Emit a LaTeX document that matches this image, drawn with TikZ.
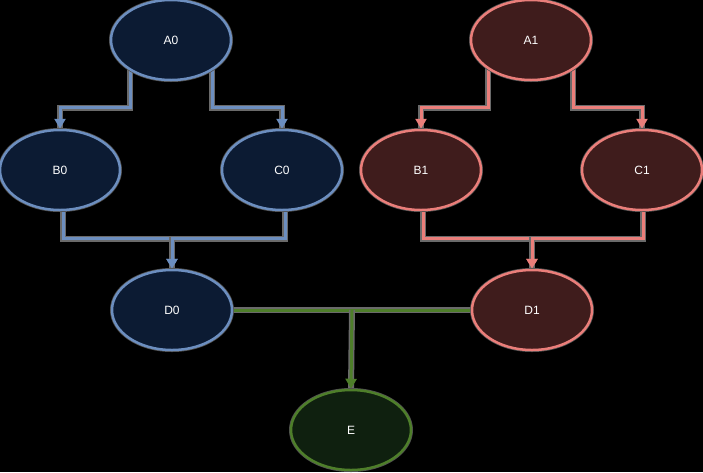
\documentclass[tikz,border=0pt]{standalone}
\usepackage{fontspec}
\setmainfont{Liberation Sans}
\usetikzlibrary{arrows.meta,calc,backgrounds,shapes.geometric}
\definecolor{bstroke}{HTML}{6C8EBF}
\definecolor{bfill}{HTML}{0C1B33}
\definecolor{rstroke}{HTML}{EA7E7A}
\definecolor{rfill}{HTML}{3F1C1C}
\definecolor{gstroke}{HTML}{4E7E2A}
\definecolor{gfill}{HTML}{0F200F}
\definecolor{halo}{HTML}{6A6A6A}
\tikzset{
  ell/.style={ellipse,minimum width=120pt,minimum height=80pt,inner sep=0pt,
    line width=2.5pt,text=white,font=\fontsize{12}{14}\selectfont,
    preaction={draw=halo!75!black,line width=4pt}},
  bnode/.style={ell,draw=bstroke,fill=bfill},
  rnode/.style={ell,draw=rstroke,fill=rfill},
  gnode/.style={ell,draw=gstroke,fill=gfill},
  conn/.style={line width=3pt,-{Triangle[width=11pt,length=10pt]},
    preaction={draw=halo,line width=6pt,-}},
  plain/.style={line width=3pt,preaction={draw=halo,line width=6pt}},
}
\begin{document}
\begin{tikzpicture}[x=1pt,y=-1pt]
\useasboundingbox (0,0) rectangle (703,472);
\node[bnode] (A0) at (171,40) {A0};
\node[bnode] (B0) at (60,170) {B0};
\node[bnode] (C0) at (282,170) {C0};
\node[bnode] (D0) at (172,310) {D0};
\node[rnode] (A1) at (531,40) {A1};
\node[rnode] (B1) at (421,170) {B1};
\node[rnode] (C1) at (642,170) {C1};
\node[rnode] (D1) at (532,310) {D1};
\node[gnode] (E) at (351,430) {E};
\begin{scope}[on background layer]
\fill[black] (0,0) rectangle (703,472);
\draw[conn,bstroke] ([xshift=-41pt]A0.center) |- ($(A0.center)!0.52!(B0.center)$) -| (B0.north);
\draw[conn,bstroke] ([xshift=41pt]A0.center) |- ($(A0.center)!0.52!(C0.center)$) -| (C0.north);
\draw[conn,bstroke] ([xshift=3pt]B0.center) |- ($(B0.center)!0.49!(D0.center)$) -| (D0.north);
\draw[conn,bstroke] ([xshift=3pt]C0.center) |- ($(C0.center)!0.49!(D0.center)$) -| (D0.north);
\draw[conn,rstroke] ([xshift=-43pt]A1.center) |- ($(A1.center)!0.52!(B1.center)$) -| (B1.north);
\draw[conn,rstroke] ([xshift=42pt]A1.center) |- ($(A1.center)!0.52!(C1.center)$) -| (C1.north);
\draw[conn,rstroke] ([xshift=2pt]B1.center) |- ($(B1.center)!0.49!(D1.center)$) -| (D1.north);
\draw[conn,rstroke] ([xshift=1pt]C1.center) |- ($(C1.center)!0.49!(D1.center)$) -| (D1.north);
\draw[plain,gstroke] (D0.east) -- (D1.west);
\draw[conn,gstroke] ($(D0.east)!0.5!(D1.west)$) -- (E.north);
\end{scope}
\end{tikzpicture}
\end{document}
